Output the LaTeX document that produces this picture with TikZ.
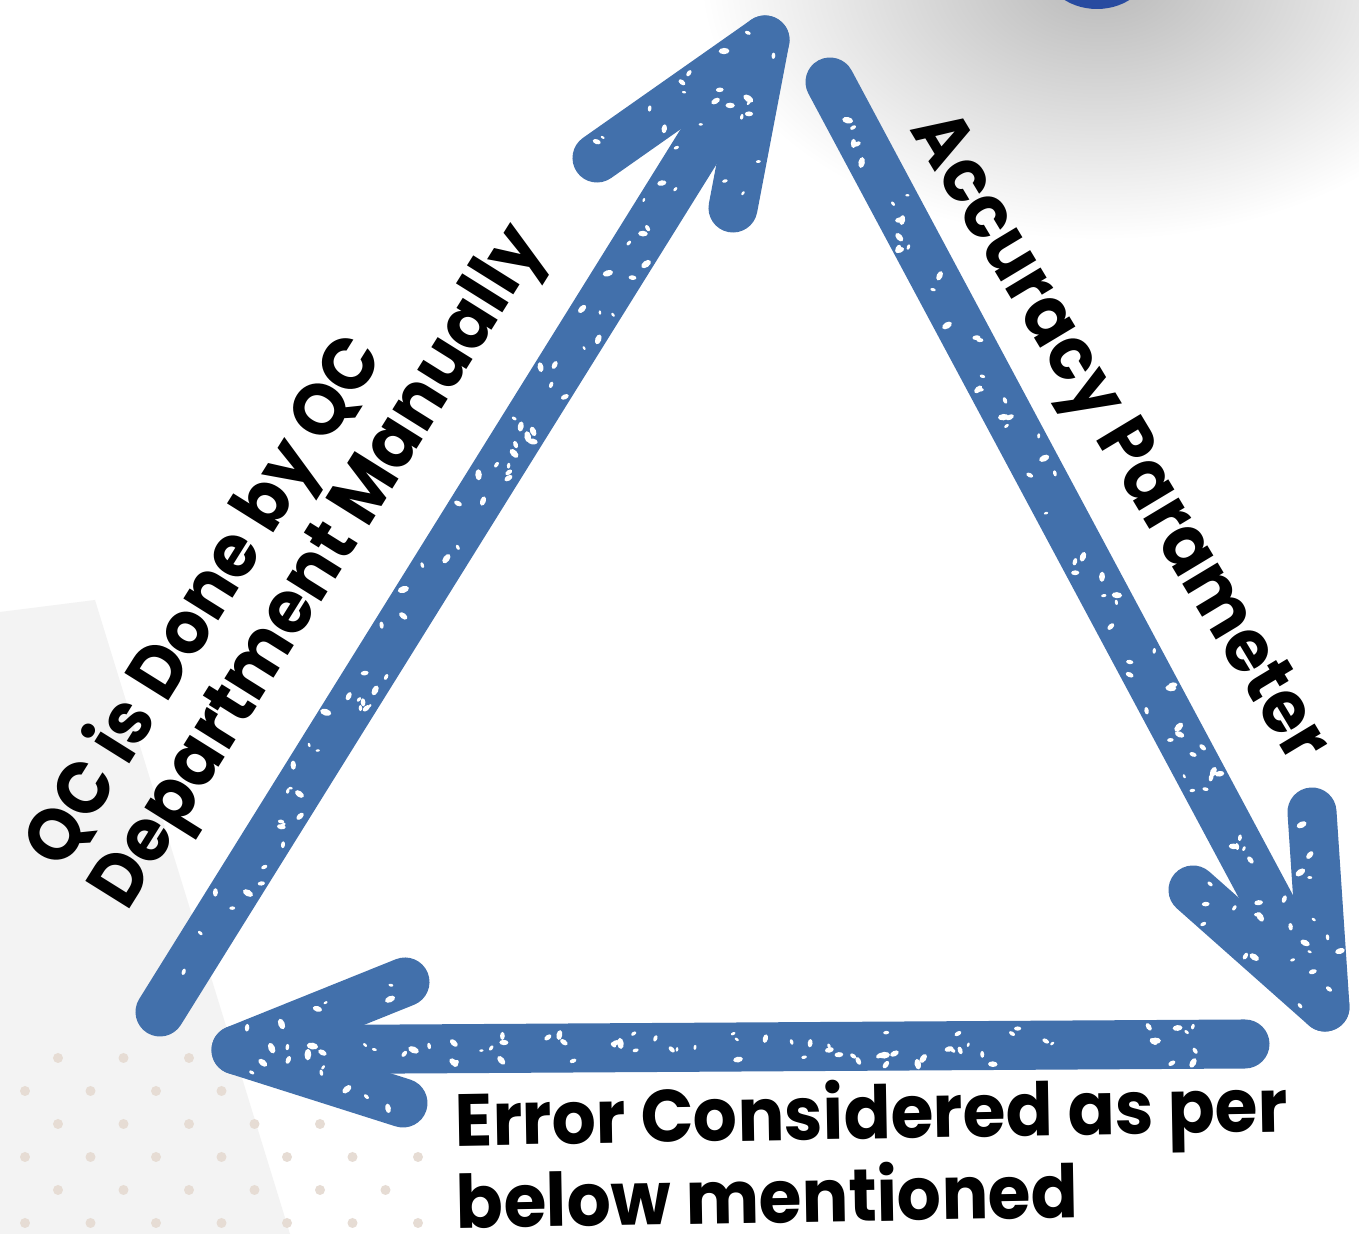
\documentclass[tikz,border=0pt]{standalone}
\usepackage{fontspec}
\setmainfont{Poppins}[FakeStretch=0.94]
\definecolor{arrowblue}{RGB}{66,112,171}
\definecolor{dotbeige}{RGB}{230,220,212}
\definecolor{bggray}{RGB}{243,243,243}
\definecolor{blobblue}{RGB}{40,75,160}
\tikzset{
  stroke/.style={draw=arrowblue, line width=0.49cm, line cap=round, line join=round},
  lbl/.style={font=\bfseries\fontsize{21}{22}\selectfont, inner sep=0pt, text=black},
}
\newcommand{\specks}[5]{%
  \pgfmathsetmacro{\spDx}{#3-#1}%
  \pgfmathsetmacro{\spDy}{#4-#2}%
  \pgfmathsetmacro{\spL}{100*sqrt((\spDx/100)^2+(\spDy/100)^2)}%
  \foreach \k in {1,...,#5}{%
    \pgfmathsetmacro{\spT}{0.04+0.92*rnd}%
    \pgfmathsetmacro{\spO}{19*rand}%
    \pgfmathsetmacro{\spX}{#1+\spT*\spDx-\spO*(\spDy/\spL)}%
    \pgfmathsetmacro{\spY}{#2+\spT*\spDy+\spO*(\spDx/\spL)}%
    \pgfmathsetmacro{\spR}{1.2+2.2*rnd}%
    \pgfmathsetmacro{\spA}{360*rnd}%
    \fill[white, rotate around={\spA:(\spX,\spY)}] (\spX,\spY) ellipse ({\spR*1.7} and \spR);
  }}
\begin{document}
\begin{tikzpicture}[x=0.01cm,y=-0.01cm]
\useasboundingbox (0,0) rectangle (1359,1234);
\begin{scope}
  \clip (0,0) rectangle (1359,1234);
  \fill[white] (0,0) rectangle (1359,1234);
  \shade[inner color=gray!55, outer color=white] (1100,-20) ellipse (400 and 260);
  \fill[blobblue] (1097,-38) ellipse (55 and 47);
  \fill[bggray] (0,612) -- (95,600) -- (290,1234) -- (0,1234) -- cycle;
  \foreach \r in {0,...,5}{
    \pgfmathsetmacro{\yy}{1058+33*\r}
    \pgfmathsetmacro{\xs}{mod(\r,2)==0 ? 58 : 25}
    \pgfmathsetmacro{\cap}{min(440,190+2.5*(\yy-1058))}
    \foreach \c in {0,...,6}{
      \pgfmathsetmacro{\xx}{\xs+65.5*\c}
      \pgfmathparse{\xx<=\cap ? 1 : 0}
      \ifnum\pgfmathresult=1 \fill[dotbeige] (\xx,\yy) circle (5); \fi
    }
  }
\end{scope}

% arrow end points
\coordinate (LT) at (160,1012);
\coordinate (LH) at (765,40);
\coordinate (LB1) at (597,158);
\coordinate (LB2) at (733,208);
\coordinate (RT) at (830,82);
\coordinate (RH) at (1325,1007);
\coordinate (RB1) at (1312,812);
\coordinate (RB2) at (1193,890);
\coordinate (BT) at (1245,1044);
\coordinate (BH) at (236,1050);
\coordinate (BB1) at (405,982);
\coordinate (BB2) at (403,1103);

% left arrow (up)
\draw[stroke] (LT) -- (LH);
\draw[stroke] (LB1) -- (LH) -- (LB2);
% right arrow (down)
\draw[stroke] (RT) -- (RH);
\draw[stroke] (RB1) -- (RH) -- (RB2);
% bottom arrow (left)
\draw[stroke] (BT) -- (BH);
\draw[stroke] (BB1) -- (BH) -- (BB2);

% texture speckles
\pgfmathsetseed{11}
\specks{160}{1012}{765}{40}{70}
\specks{597}{158}{765}{40}{10}
\specks{733}{208}{765}{40}{8}
\specks{830}{82}{1325}{1007}{70}
\specks{1312}{812}{1325}{1007}{8}
\specks{1193}{890}{1325}{1007}{8}
\specks{1245}{1044}{236}{1050}{70}
\specks{405}{982}{236}{1050}{8}
\specks{403}{1103}{236}{1050}{6}

% labels
\node[lbl, rotate=58, anchor=west, align=left] (qc) at (78,882) {QC is Done by QC\\Department Manually};
\node[lbl, rotate=-59] (acc) at (1115,440) {Accuracy Parameter};
\node[lbl, rotate=1, anchor=west, align=left] (err) at (455,1158) {Error Considered as per\\below mentioned};
\end{tikzpicture}
\end{document}
